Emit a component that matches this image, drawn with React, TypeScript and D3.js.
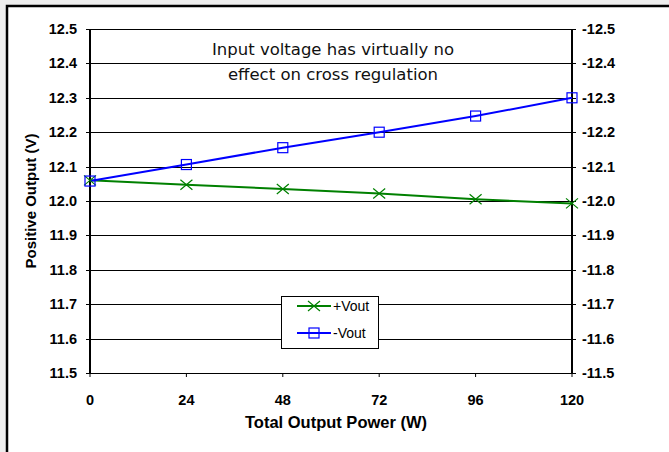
import React from "react";
import * as d3 from "d3";

const powerW = [0, 24, 48, 72, 96, 120];
const plusVout = [12.06, 12.047, 12.035, 12.022, 12.005, 11.993];
const minusVout = [12.058, 12.106, 12.155, 12.2, 12.247, 12.3];
const yTicks = [11.5, 11.6, 11.7, 11.8, 11.9, 12.0, 12.1, 12.2, 12.3, 12.4, 12.5];
const xTicks = [0, 24, 48, 72, 96, 120];
const seriesNames = ["+Vout", "-Vout"];
const annotation = ["Input voltage has virtually no", "effect on cross regulation"];

const W = 669;
const H = 452;
const left = 90;
const right = 572;
const top = 29;
const bottom = 373;

export default function App() {
  const x = d3.scaleLinear().domain([0, 120]).range([left, right]);
  const y = d3.scaleLinear().domain([11.5, 12.5]).range([bottom, top]);
  const line = d3
    .line<number>()
    .x((_, i) => x(powerW[i]))
    .y((d) => y(d));
  const font = "'Liberation Sans', Arial, sans-serif";
  const green = "#008000";
  const blue = "#0000ff";
  const cross = (cx: number, cy: number, key: string) => (
    <path
      key={key}
      d={`M${cx - 6},${cy - 5}L${cx + 6},${cy + 5}M${cx - 6},${cy + 5}L${cx + 6},${cy - 5}`}
      stroke={green}
      strokeWidth={1.2}
      fill="none"
    />
  );
  const square = (cx: number, cy: number, key: string) => (
    <rect
      key={key}
      x={cx - 5}
      y={cy - 5}
      width={10}
      height={10}
      fill="none"
      stroke={blue}
      strokeWidth={1.2}
    />
  );
  return (
    <div style={{ position: "absolute", left: 0, top: 0 }}>
      <svg width={W} height={H} style={{ display: "block" }}>
        <rect x={0} y={0} width={W} height={H} fill="#eeeeee" />
        <rect x={7} y={6} width={W + 20} height={H + 20} fill="#ffffff" stroke="#000" strokeWidth={2.5} />
        {yTicks.map((t) => (
          <line
            key={"g" + t}
            x1={left - 4}
            x2={right + 4}
            y1={Math.round(y(t)) + 0.5}
            y2={Math.round(y(t)) + 0.5}
            stroke="#000"
            strokeWidth={1}
          />
        ))}
        {xTicks.map((t) => (
          <line
            key={"xt" + t}
            x1={x(t)}
            x2={x(t)}
            y1={bottom}
            y2={bottom + 4}
            stroke="#000"
            strokeWidth={1}
          />
        ))}
        <line x1={left} x2={left} y1={top} y2={bottom} stroke="#000" strokeWidth={2} />
        <line x1={right} x2={right} y1={top} y2={bottom} stroke="#000" strokeWidth={2} />
        {yTicks.map((t) => (
          <text
            key={"yl" + t}
            x={77}
            y={y(t)}
            dy="0.35em"
            textAnchor="end"
            fontFamily={font}
            fontWeight="bold"
            fontSize={14.5}
          >
            {t.toFixed(1)}
          </text>
        ))}
        {yTicks.map((t) => (
          <text
            key={"yr" + t}
            x={582}
            y={y(t)}
            dy="0.35em"
            textAnchor="start"
            fontFamily={font}
            fontWeight="bold"
            fontSize={14.5}
          >
            {"-" + t.toFixed(1)}
          </text>
        ))}
        {xTicks.map((t) => (
          <text
            key={"xl" + t}
            x={x(t)}
            y={400}
            dy="0.35em"
            textAnchor="middle"
            fontFamily={font}
            fontWeight="bold"
            fontSize={14.5}
          >
            {t}
          </text>
        ))}
        <text
          x={336}
          y={422}
          dy="0.35em"
          textAnchor="middle"
          fontFamily={font}
          fontWeight="bold"
          fontSize={16.5}
        >
          Total Output Power (W)
        </text>
        <text
          transform={`translate(31,${(top + bottom) / 2}) rotate(-90)`}
          dy="0.35em"
          textAnchor="middle"
          fontFamily={font}
          fontWeight="bold"
          fontSize={15}
        >
          Positive Output (V)
        </text>
        {annotation.map((s, i) => (
          <text
            key={"a" + i}
            x={333}
            y={49 + i * 25}
            dy="0.35em"
            textAnchor="middle"
            fontFamily="'DejaVu Sans', sans-serif"
            fontSize={16.5}
            fill="#111"
          >
            {s}
          </text>
        ))}
        <path d={line(plusVout) || ""} fill="none" stroke={green} strokeWidth={2} />
        <path d={line(minusVout) || ""} fill="none" stroke={blue} strokeWidth={2} />
        {plusVout.map((v, i) => cross(x(powerW[i]), y(v), "c" + i))}
        {minusVout.map((v, i) => square(x(powerW[i]), y(v), "s" + i))}
        <rect x={281.5} y={296.5} width={97} height={52} fill="#fff" stroke="#000" strokeWidth={1} />
        <line x1={297} x2={331} y1={306} y2={306} stroke={green} strokeWidth={2} />
        {cross(314, 306, "lc")}
        <text x={333} y={306} dy="0.35em" fontFamily={font} fontSize={14}>
          {seriesNames[0]}
        </text>
        <line x1={297} x2={331} y1={333} y2={333} stroke={blue} strokeWidth={2} />
        {square(314, 333, "ls")}
        <text x={333} y={333} dy="0.35em" fontFamily={font} fontSize={14}>
          {seriesNames[1]}
        </text>
      </svg>
    </div>
  );
}
